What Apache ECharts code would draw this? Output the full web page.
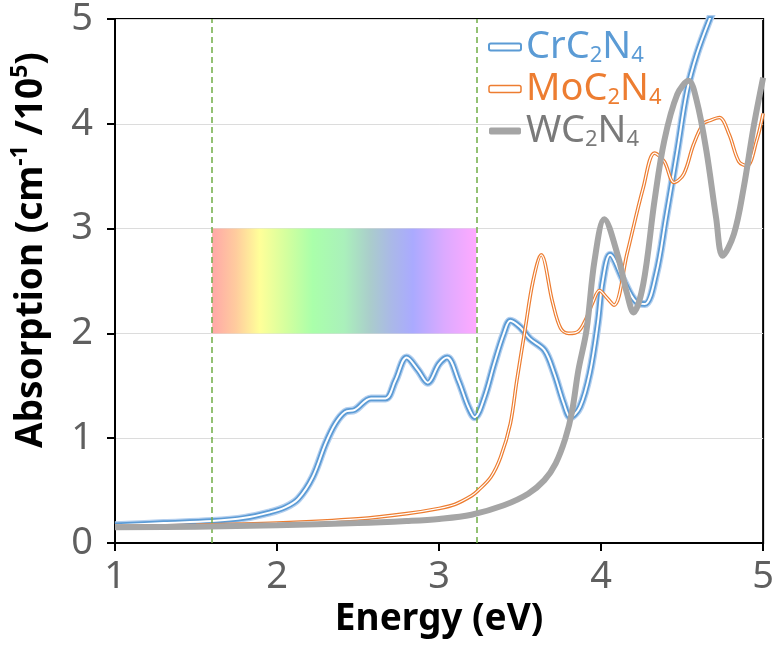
<!DOCTYPE html>
<html>
<head>
<meta charset="utf-8">
<script src="https://cdn.jsdelivr.net/npm/echarts@6/dist/echarts.min.js"></script>
<style>
  html, body { margin: 0; padding: 0; background: #fff; }
  #main { width: 777px; height: 646px; }
</style>
</head>
<body>
<div id="main"></div>
<script>
var dom = document.getElementById("main");
var myChart = echarts.init(dom);

// CrC2N4 absorption spectrum
var crE = [1.0, 1.3, 1.6, 1.8, 1.95, 2.05, 2.13, 2.22, 2.3, 2.36, 2.42, 2.48, 2.58, 2.67, 2.73, 2.8, 2.87, 2.93, 3.0, 3.05, 3.12, 3.18, 3.22, 3.28, 3.34, 3.4, 3.44, 3.5, 3.56, 3.65, 3.71, 3.77, 3.81, 3.87, 3.93, 3.98, 4.01, 4.055, 4.14, 4.21, 4.27, 4.34, 4.4, 4.47, 4.53, 4.59, 4.67, 4.75];
var crA = [0.17, 0.19, 0.21, 0.24, 0.29, 0.34, 0.42, 0.63, 0.95, 1.14, 1.25, 1.27, 1.38, 1.38, 1.55, 1.77, 1.65, 1.53, 1.71, 1.77, 1.55, 1.3, 1.2, 1.39, 1.71, 2.0, 2.12, 2.06, 1.95, 1.84, 1.62, 1.33, 1.2, 1.3, 1.62, 2.1, 2.5, 2.75, 2.5, 2.31, 2.28, 2.57, 3.1, 3.74, 4.31, 4.66, 5.0, 5.3];

// MoC2N4
var moE = [1.0, 1.5, 2.0, 2.5, 2.8, 3.0, 3.1, 3.2, 3.24, 3.32, 3.38, 3.44, 3.48, 3.53, 3.58, 3.63, 3.7, 3.75, 3.8, 3.86, 3.91, 3.95, 3.99, 4.03, 4.08, 4.16, 4.26, 4.33, 4.39, 4.45, 4.51, 4.57, 4.63, 4.67, 4.73, 4.79, 4.85, 4.9, 4.96, 5.0];
var moA = [0.16, 0.17, 0.19, 0.23, 0.28, 0.33, 0.37, 0.45, 0.5, 0.63, 0.82, 1.14, 1.55, 2.03, 2.5, 2.75, 2.3, 2.05, 2.0, 2.02, 2.15, 2.3, 2.41, 2.35, 2.27, 2.76, 3.39, 3.72, 3.64, 3.44, 3.52, 3.8, 4.0, 4.03, 4.06, 3.9, 3.64, 3.6, 3.84, 4.1];

// WC2N4
var wE = [1.0, 1.5, 2.0, 2.5, 2.8, 3.0, 3.2, 3.4, 3.55, 3.65, 3.72, 3.78, 3.82, 3.86, 3.91, 3.96, 4.02, 4.1, 4.16, 4.2, 4.26, 4.33, 4.39, 4.47, 4.54, 4.59, 4.65, 4.71, 4.75, 4.82, 4.88, 4.94, 5.0];
var wA = [0.15, 0.155, 0.17, 0.19, 0.21, 0.23, 0.27, 0.36, 0.47, 0.6, 0.76, 1.0, 1.25, 1.65, 2.03, 2.7, 3.09, 2.76, 2.38, 2.2, 2.47, 3.27, 3.84, 4.28, 4.41, 4.22, 3.74, 3.1, 2.74, 2.95, 3.39, 3.96, 4.44];

// visible light window (eV) and the rainbow band (absorption units)
var visibleEdges = [1.6, 3.23];
var bandRange = [2, 3];

var names = ['CrC2N4', 'MoC2N4', 'WC2N4'];
var textColors = ['#5b9bd5', '#ed7d31', '#7a7a7a'];

function pairs(xs, ys) {
    return xs.map(function (x, i) { return [x, ys[i]]; });
}

var rainbow = new echarts.graphic.LinearGradient(0, 0, 1, 0, [
    {offset: 0, color: '#ffa8a8'},
    {offset: 0.09, color: '#ffcc9e'},
    {offset: 0.18, color: '#ffff99'},
    {offset: 0.28, color: '#d4ff9e'},
    {offset: 0.38, color: '#aaffaa'},
    {offset: 0.5, color: '#aaf0bb'},
    {offset: 0.6, color: '#aacccc'},
    {offset: 0.68, color: '#aab8e8'},
    {offset: 0.76, color: '#aaaaff'},
    {offset: 0.88, color: '#dcaaff'},
    {offset: 1, color: '#ffaaff'}
]);

// legend rich text: digits become subscripts
var rich = {};
names.forEach(function (n, i) {
    rich['t' + i] = {color: textColors[i], fontSize: 38, lineHeight: 40, fontFamily: 'Noto Sans'};
    rich['s' + i] = {color: textColors[i], fontSize: 22, lineHeight: 34, verticalAlign: 'bottom', fontFamily: 'Noto Sans'};
});

function legendLabel(name) {
    var i = names.indexOf(name);
    return name.replace(/(\D+)|(\d+)/g, function (m, letters, digits) {
        return letters ? '{t' + i + '|' + letters + '}' : '{s' + i + '|' + digits + '}';
    });
}

function line(name, data, color, width, z) {
    return {
        name: name,
        type: 'line',
        data: data,
        smooth: 0.35,
        showSymbol: false,
        symbol: 'none',
        z: z,
        lineStyle: {color: color, width: width},
        itemStyle: {color: color}
    };
}

var crData = pairs(crE, crA);
var moData = pairs(moE, moA);
var wData = pairs(wE, wA);

var crOuter = line('CrC2N4', crData, '#b4cfee', 8, 2);
crOuter.markArea = {
    silent: true,
    itemStyle: {color: rainbow, opacity: 1},
    data: [[{coord: [visibleEdges[0], bandRange[1]]}, {coord: [visibleEdges[1], bandRange[0]]}]]
};
crOuter.markLine = {
    silent: true,
    symbol: ['none', 'none'],
    label: {show: false},
    lineStyle: {color: '#70ad47', type: [6, 4], width: 1.5},
    data: [{xAxis: visibleEdges[0]}, {xAxis: visibleEdges[1]}]
};

option = {
    animation: false,
    backgroundColor: '#fff',
    grid: {
        left: 115,
        right: 9,
        top: 18,
        bottom: 103,
        show: true,
        borderColor: '#000',
        borderWidth: 2
    },
    legend: {
        left: 483,
        top: 23,
        orient: 'vertical',
        itemGap: 3,
        itemWidth: 32,
        itemHeight: 7,
        selectedMode: false,
        formatter: legendLabel,
        textStyle: {rich: rich},
        data: [
            {name: 'CrC2N4', icon: 'roundRect', itemStyle: {color: '#fff', borderColor: '#5b9bd5', borderWidth: 2}},
            {name: 'MoC2N4', icon: 'roundRect', itemStyle: {color: '#fff', borderColor: '#ed7d31', borderWidth: 1.5}},
            {name: 'WC2N4', icon: 'roundRect', itemStyle: {color: '#a5a5a5', borderWidth: 0}}
        ]
    },
    xAxis: {
        type: 'value',
        min: 1,
        max: 5,
        interval: 1,
        name: 'Energy (eV)',
        nameLocation: 'middle',
        nameGap: 54,
        nameTextStyle: {color: '#000', fontSize: 37, fontWeight: 'bold', fontFamily: 'Noto Sans'},
        axisLine: {lineStyle: {color: '#000', width: 2}},
        axisTick: {show: true, inside: false, length: 8, lineStyle: {color: '#000', width: 2}},
        axisLabel: {color: '#5f5f5f', fontSize: 38, margin: 15, fontFamily: 'Noto Sans'},
        splitLine: {show: false}
    },
    yAxis: {
        type: 'value',
        min: 0,
        max: 5,
        interval: 1,
        name: '{m|Absorption (cm}{p|-1}{m| /10}{p|5}{m|)}',
        nameLocation: 'middle',
        nameRotate: 90,
        nameGap: 62,
        nameTextStyle: {
            padding: [0, 0, 0, 62],
            rich: {
                m: {color: '#000', fontSize: 37, fontWeight: 'bold', lineHeight: 44, fontFamily: 'Noto Sans'},
                p: {color: '#000', fontSize: 23, fontWeight: 'bold', lineHeight: 30, verticalAlign: 'top', fontFamily: 'Noto Sans'}
            }
        },
        axisLine: {show: true, lineStyle: {color: '#000', width: 2}},
        axisTick: {show: true, inside: false, length: 8, lineStyle: {color: '#000', width: 2}},
        axisLabel: {color: '#5f5f5f', fontSize: 38, margin: 22, fontFamily: 'Noto Sans'},
        splitLine: {show: true, lineStyle: {color: '#dcdcdc', width: 1}}
    },
    series: [
        crOuter,
        line('cr-mid', crData, '#5b9bd5', 5.5, 3),
        line('cr-in', crData, '#ffffff', 2, 4),
        line('MoC2N4', moData, '#ed7d31', 3.6, 5),
        line('mo-in', moData, '#ffffff', 1.2, 6),
        line('WC2N4', wData, '#a5a5a5', 6, 7)
    ]
};

if (option && typeof option === "object") {
    myChart.setOption(option, true);
}
</script>
</body>
</html>
